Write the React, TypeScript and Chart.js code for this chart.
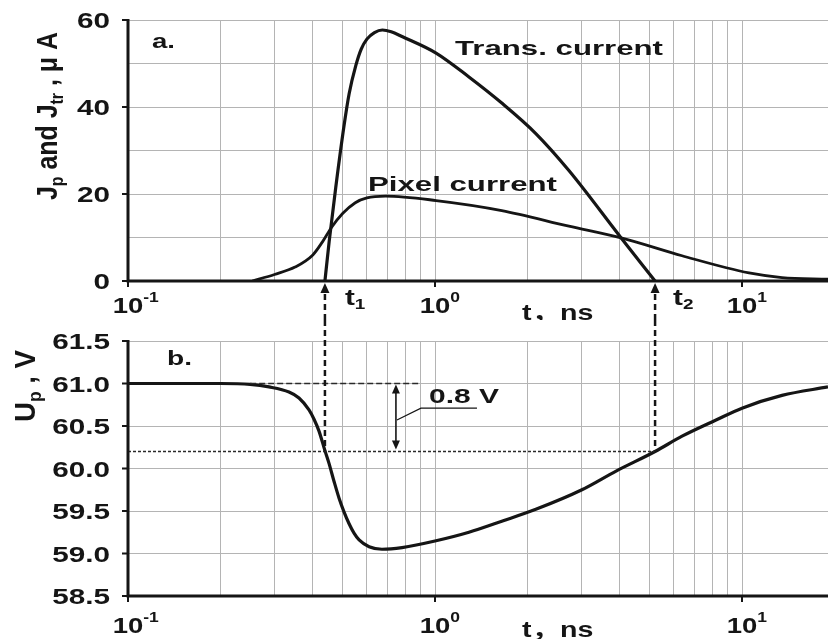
import React, { useEffect, useRef } from "react";
import { Chart, registerables } from "chart.js";

Chart.register(...registerables);

// ---------------- data ----------------
const T_MIN = 0.1;
const T_MAX = 19.06;

// transient current J_tr (µA) vs t (ns)
const transTime = [0.438, 0.452, 0.475, 0.505, 0.525, 0.552, 0.575, 0.6, 0.635, 0.674, 0.72, 0.781, 1.008, 1.29, 1.65, 2.13, 2.73, 4.04, 5.21];
const transCurrent = [0, 9.0, 21.5, 35.5, 43.0, 49.5, 53.3, 55.6, 57.1, 57.7, 57.3, 56.2, 52.4, 46.9, 40.9, 33.9, 25.4, 9.9, 0];

// pixel current J_p (µA) vs t (ns)
const pixelTime = [0.254, 0.3, 0.35, 0.4, 0.43, 0.46, 0.5, 0.55, 0.6, 0.69, 1.008, 1.65, 2.73, 4.04, 6.38, 10.54, 13.5, 19.06];
const pixelCurrent = [0, 1.5, 3.2, 6.0, 9.0, 12.3, 15.5, 18.0, 19.1, 19.5, 18.5, 16.2, 12.6, 9.9, 5.8, 1.85, 0.8, 0.4];

// pixel voltage U_p (V) vs t (ns)
const upTime = [0.1, 0.2, 0.25, 0.288, 0.3345, 0.3606, 0.3887, 0.4036, 0.419, 0.438, 0.4516, 0.4688, 0.487, 0.5053, 0.525, 0.5448, 0.566, 0.61, 0.672, 0.781, 1.008, 1.29, 1.65, 2.13, 3.01, 3.89, 5.21, 6.38, 8.23, 10.0, 13.5, 19.06];
const upVoltage = [61.0, 61.0, 60.99, 60.96, 60.9, 60.83, 60.69, 60.58, 60.44, 60.21, 60.06, 59.85, 59.65, 59.49, 59.35, 59.24, 59.16, 59.08, 59.05, 59.07, 59.15, 59.25, 59.38, 59.52, 59.75, 59.97, 60.2, 60.38, 60.57, 60.71, 60.86, 60.96];

// markers
const t1 = 0.438;
const t2 = 5.21;
const uRest = 61.0;
const uLevel = 60.2;
const tDelta = 0.746;
const deltaLabel = "0.8 V";

// ticks
const jTicks = [0, 20, 40, 60];
const uTicks = [58.5, 59.0, 59.5, 60.0, 60.5, 61.0, 61.5];
const decades = [0.1, 1, 10];
const decadeExp = ["-1", "0", "1"];
const gridTimes = decades
  .flatMap((d) => [1, 2, 3, 4, 5, 6, 7, 8, 9].map((k) => +(k * d).toFixed(3)))
  .filter((v) => v <= T_MAX);

// ---------------- drawing helpers ----------------
const FAMILY = '"Liberation Sans", Arial, "Noto Sans CJK SC", sans-serif';
const INK = "#151515";
const GRID = "#b4b4b4";

type Part = { t: string; k?: "sub" | "sup" };

function partFont(size: number, k?: string) {
  const s = k ? Math.round(size * 0.64) : size;
  return `bold ${s}px ${FAMILY}`;
}
function partDy(size: number, k?: string) {
  if (k === "sub") return size * 0.2;
  if (k === "sup") return -size * 0.5;
  return 0;
}
function measure(ctx: CanvasRenderingContext2D, parts: Part[], size: number) {
  let w = 0;
  for (const p of parts) {
    ctx.font = partFont(size, p.k);
    w += ctx.measureText(p.t).width;
  }
  return w;
}
function drawText(
  ctx: CanvasRenderingContext2D,
  parts: Part[] | string,
  x: number,
  y: number,
  o: { size?: number; sx?: number; sy?: number; width?: number; align?: "left" | "center" | "right" | "first"; rotate?: boolean }
) {
  const ps: Part[] = typeof parts === "string" ? [{ t: parts }] : parts;
  const size = o.size ?? 22;
  const natural = measure(ctx, ps, size);
  const sx = o.width ? o.width / natural : o.sx ?? 1;
  const sy = o.sy ?? 1;
  const align = o.align ?? "left";
  let start = 0;
  if (align === "center") start = -natural / 2;
  else if (align === "right") start = -natural;
  else if (align === "first") {
    ctx.font = partFont(size, ps[0].k);
    start = -ctx.measureText(ps[0].t).width / 2;
  }
  ctx.save();
  ctx.translate(x, y);
  if (o.rotate) ctx.rotate(-Math.PI / 2);
  ctx.scale(sx, sy);
  ctx.fillStyle = INK;
  ctx.textBaseline = "alphabetic";
  ctx.textAlign = "left";
  let cx = start;
  for (const p of ps) {
    ctx.font = partFont(size, p.k);
    ctx.fillText(p.t, cx, partDy(size, p.k));
    cx += ctx.measureText(p.t).width;
  }
  ctx.restore();
}
function arrowHead(ctx: CanvasRenderingContext2D, x: number, tipY: number, dir: 1 | -1, len = 10, half = 4.5) {
  // dir = -1 : pointing up, 1 : pointing down
  ctx.beginPath();
  ctx.moveTo(x, tipY);
  ctx.lineTo(x - half, tipY - dir * len);
  ctx.lineTo(x + half, tipY - dir * len);
  ctx.closePath();
  ctx.fill();
}
function drawAxes(chart: any, yTicks: number[]) {
  const { ctx, chartArea: ca } = chart;
  const xs = chart.scales.x;
  const ys = chart.scales.y;
  ctx.save();
  ctx.strokeStyle = INK;
  ctx.setLineDash([]);
  ctx.lineWidth = 3;
  ctx.beginPath();
  ctx.moveTo(ca.left, ca.top - 1);
  ctx.lineTo(ca.left, ca.bottom);
  ctx.lineTo(ca.right, ca.bottom);
  ctx.stroke();
  ctx.lineWidth = 2;
  ctx.beginPath();
  for (const v of yTicks) {
    const py = ys.getPixelForValue(v);
    ctx.moveTo(ca.left - 6, py);
    ctx.lineTo(ca.left, py);
  }
  for (const d of decades) {
    const px = xs.getPixelForValue(d);
    ctx.moveTo(px, ca.bottom);
    ctx.lineTo(px, ca.bottom + 6);
  }
  ctx.stroke();
  ctx.restore();
}

// ---------------- plugins ----------------
const topDecor = {
  id: "topDecor",
  afterDraw(chart: any) {
    const { ctx, chartArea: ca } = chart;
    const xs = chart.scales.x;
    const ys = chart.scales.y;
    ctx.save();
    ctx.strokeStyle = INK;
    ctx.fillStyle = INK;
    for (const t of [t1, t2]) {
      const px = xs.getPixelForValue(t);
      ctx.setLineDash([6, 4]);
      ctx.lineWidth = 2.5;
      ctx.beginPath();
      ctx.moveTo(px, chart.height);
      ctx.lineTo(px, ca.bottom + 11);
      ctx.stroke();
      ctx.setLineDash([]);
      arrowHead(ctx, px, ca.bottom + 2, -1);
    }
    ctx.restore();

    drawAxes(chart, jTicks);

    for (const v of jTicks) drawText(ctx, String(v), 110, ys.getPixelForValue(v) + 8, { size: 22, sx: 1.35, align: "right" });
    decades.forEach((d, i) =>
      drawText(ctx, [{ t: "10" }, { t: decadeExp[i], k: "sup" }], xs.getPixelForValue(d), 313, { size: 22, sx: 1.25, align: "first" })
    );
    drawText(ctx, [{ t: "t" }, { t: "1", k: "sub" }], xs.getPixelForValue(t1) + 20, 305, { size: 22, sx: 1.35 });
    drawText(ctx, [{ t: "t" }, { t: "2", k: "sub" }], xs.getPixelForValue(t2) + 18, 305, { size: 22, sx: 1.35 });
    drawText(ctx, "t，ns", 522, 320, { size: 22, sx: 1.3 });
    drawText(ctx, "Trans. current", 455, 55, { size: 21, width: 208 });
    drawText(ctx, "Pixel current", 368, 191, { size: 21, width: 189 });
    drawText(ctx, "a.", 152, 48, { size: 21, width: 23 });
    drawText(
      ctx,
      [{ t: "J" }, { t: "p", k: "sub" }, { t: " and J" }, { t: "tr", k: "sub" }, { t: " , μ A" }],
      57,
      116,
      { size: 22, rotate: true, align: "center", width: 168, sy: 1.3 }
    );
  },
};

const bottomDecor = {
  id: "bottomDecor",
  afterDraw(chart: any) {
    const { ctx, chartArea: ca } = chart;
    const xs = chart.scales.x;
    const ys = chart.scales.y;
    const yRest = ys.getPixelForValue(uRest);
    const yLevel = ys.getPixelForValue(uLevel);
    ctx.save();
    ctx.strokeStyle = "#2a2a2a";
    ctx.fillStyle = INK;
    // horizontal reference lines
    ctx.lineWidth = 1.3;
    ctx.setLineDash([6, 3]);
    ctx.beginPath();
    ctx.moveTo(xs.getPixelForValue(0.25), yRest);
    ctx.lineTo(xs.getPixelForValue(0.9), yRest);
    ctx.stroke();
    ctx.setLineDash([3, 2]);
    ctx.beginPath();
    ctx.moveTo(ca.left, yLevel);
    ctx.lineTo(xs.getPixelForValue(t2), yLevel);
    ctx.stroke();
    // vertical dashed markers
    ctx.strokeStyle = INK;
    ctx.lineWidth = 2.5;
    ctx.setLineDash([6, 4]);
    for (const t of [t1, t2]) {
      const px = xs.getPixelForValue(t);
      ctx.beginPath();
      ctx.moveTo(px, 0);
      ctx.lineTo(px, yLevel);
      ctx.stroke();
    }
    // 0.8 V double arrow
    ctx.setLineDash([]);
    const ax = xs.getPixelForValue(tDelta);
    ctx.lineWidth = 1.6;
    ctx.beginPath();
    ctx.moveTo(ax, yRest + 8);
    ctx.lineTo(ax, yLevel - 8);
    ctx.stroke();
    arrowHead(ctx, ax, yRest + 1, -1, 9, 4);
    arrowHead(ctx, ax, yLevel - 2, 1, 9, 4);
    // leader line
    const yLead = ys.getPixelForValue(60.71);
    ctx.lineWidth = 1.2;
    ctx.beginPath();
    ctx.moveTo(ax + 1, ys.getPixelForValue(60.57));
    ctx.lineTo(xs.getPixelForValue(0.9), yLead);
    ctx.lineTo(xs.getPixelForValue(1.37), yLead);
    ctx.stroke();
    ctx.restore();

    drawText(ctx, deltaLabel, xs.getPixelForValue(0.956), yLead - 5, { size: 21, width: 70 });

    drawAxes(chart, uTicks);

    for (const v of uTicks) drawText(ctx, v.toFixed(1), 110, ys.getPixelForValue(v) + 8, { size: 22, sx: 1.35, align: "right" });
    decades.forEach((d, i) =>
      drawText(ctx, [{ t: "10" }, { t: decadeExp[i], k: "sup" }], xs.getPixelForValue(d), 313, { size: 22, sx: 1.25, align: "first" })
    );
    drawText(ctx, "t，ns", 522, 317, { size: 22, sx: 1.3 });
    drawText(ctx, "b.", 167, 45, { size: 21, width: 25 });
    drawText(ctx, [{ t: "U" }, { t: "p", k: "sub" }, { t: " , V" }], 35, 66, {
      size: 22,
      rotate: true,
      align: "center",
      width: 72,
      sy: 1.3,
    });
  },
};

// ---------------- chart configs ----------------
function series(times: number[], values: number[], width: number) {
  return {
    data: times.map((t, i) => ({ x: t, y: values[i] })),
    borderColor: INK,
    borderWidth: width,
    pointRadius: 0,
    fill: false,
    cubicInterpolationMode: "monotone" as const,
  };
}

function makeOptions(yMin: number, yMax: number, yStep: number, padding: any) {
  return {
    responsive: false,
    animation: false as const,
    events: [] as any[],
    layout: { padding, autoPadding: false },
    plugins: { legend: { display: false }, tooltip: { enabled: false } },
    scales: {
      x: {
        type: "logarithmic" as const,
        min: T_MIN,
        max: T_MAX,
        afterBuildTicks: (axis: any) => {
          axis.ticks = gridTimes.map((v) => ({ value: v, major: false }));
        },
        ticks: { display: false },
        grid: { color: GRID, lineWidth: 1, drawTicks: false },
        border: { display: false },
      },
      y: {
        type: "linear" as const,
        min: yMin,
        max: yMax,
        ticks: { display: false, stepSize: yStep },
        grid: { color: GRID, lineWidth: 1, drawTicks: false },
        border: { display: false },
      },
    },
  };
}

export default function App() {
  const topRef = useRef<HTMLCanvasElement>(null);
  const botRef = useRef<HTMLCanvasElement>(null);

  useEffect(() => {
    const top = new Chart(topRef.current as HTMLCanvasElement, {
      type: "line",
      data: {
        datasets: [series(transTime, transCurrent, 3.2), series(pixelTime, pixelCurrent, 2.8)] as any,
      },
      options: makeOptions(0, 60, 10, { left: 128, top: 20, right: 0, bottom: 39 }) as any,
      plugins: [topDecor],
    });
    const bottom = new Chart(botRef.current as HTMLCanvasElement, {
      type: "line",
      data: { datasets: [series(upTime, upVoltage, 3.2)] as any },
      options: makeOptions(58.5, 61.5, 0.5, { left: 128, top: 21, right: 0, bottom: 43 }) as any,
      plugins: [bottomDecor],
    });
    return () => {
      top.destroy();
      bottom.destroy();
    };
  }, []);

  return (
    <div style={{ position: "absolute", left: 0, top: 0, width: 828, height: 639, background: "#fff", overflow: "hidden" }}>
      <canvas ref={topRef} width={828} height={320} style={{ position: "absolute", left: 0, top: 0 }} />
      <canvas ref={botRef} width={828} height={319} style={{ position: "absolute", left: 0, top: 320 }} />
    </div>
  );
}
